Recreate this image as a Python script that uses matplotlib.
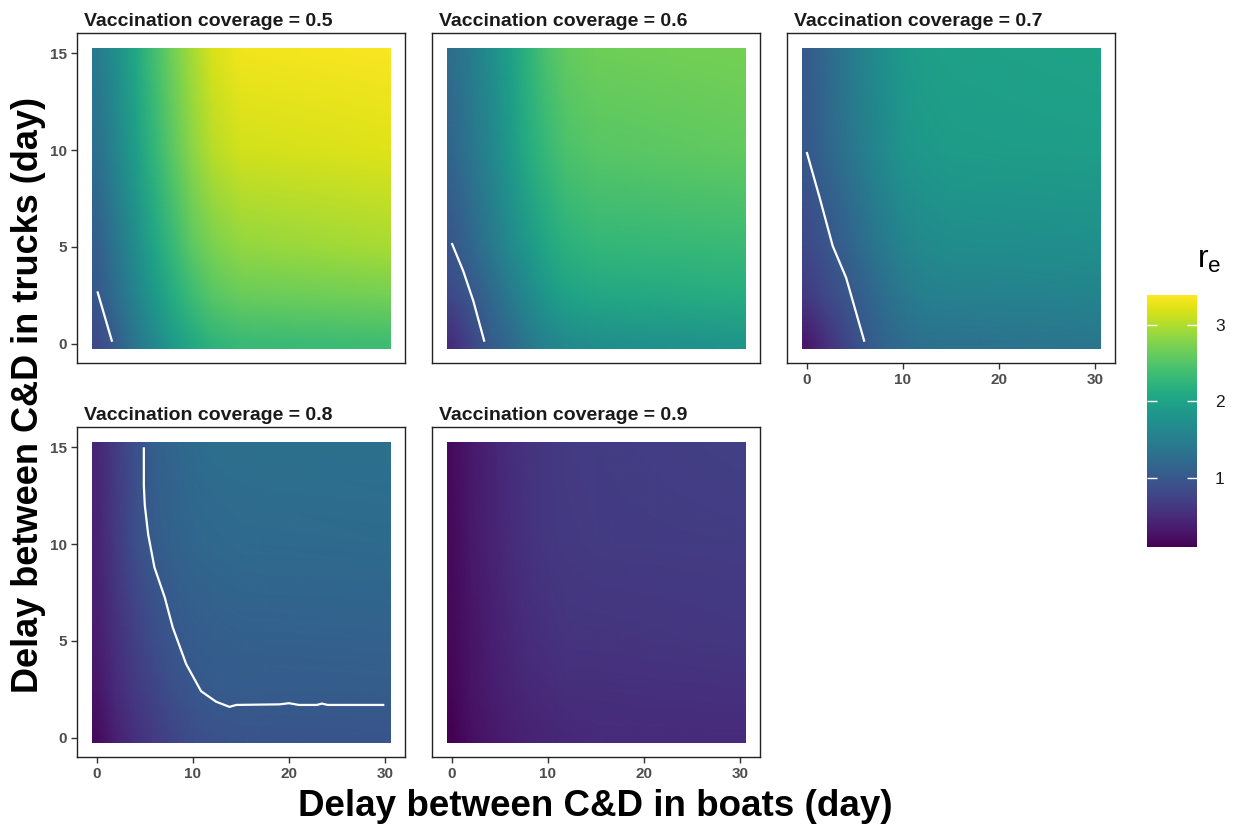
import numpy as np
import matplotlib
matplotlib.use("Agg")
import matplotlib.pyplot as plt
from matplotlib.image import NonUniformImage
from matplotlib.colors import Normalize
from matplotlib.cm import ScalarMappable
from matplotlib.patches import Rectangle

plt.rcParams['font.family'] = ['Liberation Sans', 'DejaVu Sans']
plt.rcParams['mathtext.fontset'] = 'custom'
plt.rcParams['mathtext.rm'] = 'Liberation Sans'
plt.rcParams['mathtext.it'] = 'Liberation Sans:italic'

# ---------------- data ----------------
coverage = [0.5, 0.6, 0.7, 0.8, 0.9]
boat_delay = [0, 2, 4, 6, 8, 10, 12, 15, 30]        # x (day)
truck_delay = [0, 2.5, 5, 10, 15]                   # y (day)

# r_e values, one row per truck delay (bottom to top)
re_05 = [[0.82, 1.08, 1.38, 1.64, 1.91, 2.10, 2.24, 2.33, 2.37],
         [1.00, 1.28, 1.58, 1.87, 2.14, 2.37, 2.53, 2.63, 2.70],
         [1.08, 1.38, 1.71, 2.04, 2.33, 2.57, 2.73, 2.86, 2.96],
         [1.31, 1.61, 1.94, 2.27, 2.57, 2.83, 3.03, 3.16, 3.23],
         [1.44, 1.74, 2.07, 2.40, 2.70, 2.96, 3.19, 3.32, 3.36]]
re_06 = [[0.52, 0.78, 1.05, 1.21, 1.41, 1.58, 1.67, 1.74, 1.81],
         [0.82, 1.00, 1.21, 1.44, 1.67, 1.87, 2.00, 2.07, 2.14],
         [0.99, 1.18, 1.41, 1.64, 1.87, 2.07, 2.20, 2.27, 2.33],
         [1.18, 1.38, 1.61, 1.87, 2.14, 2.33, 2.47, 2.53, 2.60],
         [1.28, 1.48, 1.71, 1.97, 2.24, 2.47, 2.60, 2.66, 2.70]]
re_07 = [[0.32, 0.55, 0.78, 1.00, 1.15, 1.25, 1.31, 1.34, 1.38],
         [0.65, 0.82, 0.96, 1.11, 1.28, 1.41, 1.51, 1.54, 1.58],
         [0.82, 0.95, 1.11, 1.28, 1.44, 1.58, 1.64, 1.71, 1.74],
         [1.00, 1.18, 1.34, 1.51, 1.67, 1.81, 1.87, 1.91, 1.94],
         [1.05, 1.21, 1.41, 1.58, 1.74, 1.87, 1.94, 1.97, 2.00]]
re_08 = [[0.19, 0.39, 0.55, 0.68, 0.78, 0.87, 0.92, 0.95, 0.96],
         [0.29, 0.49, 0.65, 0.78, 0.90, 0.98, 1.02, 1.05, 1.06],
         [0.35, 0.55, 0.72, 0.87, 0.98, 1.05, 1.08, 1.10, 1.11],
         [0.42, 0.65, 0.88, 1.05, 1.13, 1.18, 1.21, 1.23, 1.25],
         [0.45, 0.68, 0.90, 1.10, 1.18, 1.25, 1.28, 1.29, 1.31]]
re_09 = [[0.09, 0.22, 0.30, 0.37, 0.42, 0.45, 0.47, 0.49, 0.50],
         [0.14, 0.26, 0.34, 0.42, 0.47, 0.50, 0.53, 0.54, 0.56],
         [0.16, 0.27, 0.37, 0.45, 0.52, 0.55, 0.58, 0.59, 0.62],
         [0.17, 0.30, 0.40, 0.50, 0.57, 0.62, 0.64, 0.66, 0.68],
         [0.19, 0.32, 0.42, 0.52, 0.59, 0.63, 0.67, 0.68, 0.72]]

# r_e = 1 threshold line (x, y) per panel
line_05_x = [0.07, 1.6]
line_05_y = [2.7, 0.1]
line_06_x = [0.0, 1.2, 2.25, 3.4]
line_06_y = [5.2, 3.75, 2.2, 0.1]
line_07_x = [0.0, 1.34, 2.7, 4.1, 6.0]
line_07_y = [9.9, 7.55, 5.05, 3.4, 0.1]
line_08_x = [4.9, 4.9, 5.0, 5.35, 6.0, 7.07, 7.9, 9.3, 10.85, 12.4, 13.8, 14.5,
             19.0, 20.0, 21.0, 22.9, 23.4, 24.0, 29.9]
line_08_y = [15.0, 13.0, 12.0, 10.5, 8.8, 7.25, 5.7, 3.8, 2.4, 1.86, 1.59, 1.69,
             1.72, 1.78, 1.69, 1.69, 1.76, 1.69, 1.69]
line_09_x = []
line_09_y = []

re_min, re_max = 0.09, 3.39
cbar_ticks = [1, 2, 3]
x_ticks = [0, 10, 20, 30]
y_ticks = [0, 5, 10, 15]

panels = [
    (re_05, line_05_x, line_05_y),
    (re_06, line_06_x, line_06_y),
    (re_07, line_07_x, line_07_y),
    (re_08, line_08_x, line_08_y),
    (re_09, line_09_x, line_09_y),
]

# ---------------- figure ----------------
W, H = 1235, 826
fig = plt.figure(figsize=(W / 100, H / 100), dpi=100)


def px_axes(l, t, r, b):
    return fig.add_axes([l / W, 1 - b / H, (r - l) / W, (b - t) / H])


boxes = [(77, 33, 405, 363), (432, 33, 760, 363), (787, 33, 1115, 363),
         (77, 427, 405, 757), (432, 427, 760, 757)]
show_x = [False, False, True, True, True]
show_y = [True, False, False, True, False]

norm = Normalize(vmin=re_min, vmax=re_max)
cmap = plt.get_cmap('viridis')
tick_color = '#4d4d4d'

for i, (Z, lx, ly) in enumerate(panels):
    ax = px_axes(*boxes[i])
    ax.set_xlim(-2.05, 32.05)
    ax.set_ylim(-1.0, 16.05)
    im = NonUniformImage(ax, interpolation='bilinear', cmap=cmap, norm=norm,
                         extent=(-0.5, 30.5, -0.25, 15.25))
    im.set_data(np.array(boat_delay, float), np.array(truck_delay, float),
                np.array(Z, float))
    ax.add_image(im)
    clip = Rectangle((-0.5, -0.25), 31, 15.5, transform=ax.transData,
                     facecolor='none', edgecolor='none')
    ax.add_patch(clip)
    im.set_clip_path(clip)
    if len(lx):
        ax.plot(lx, ly, color='white', lw=1.6, solid_capstyle='butt')
    for s in ax.spines.values():
        s.set_color('#222222')
        s.set_linewidth(1.0)
    ax.set_xticks(x_ticks)
    ax.set_yticks(y_ticks)
    ax.tick_params(length=4, width=1.0, color='#333333', labelcolor=tick_color,
                   labelsize=11, pad=3)
    if not show_x[i]:
        ax.tick_params(axis='x', bottom=False, labelbottom=False)
    if not show_y[i]:
        ax.tick_params(axis='y', left=False, labelleft=False)
    for lab in ax.get_xticklabels() + ax.get_yticklabels():
        lab.set_fontweight('bold')
    l, t, r, b = boxes[i]
    fig.text((l + 7) / W, 1 - (t - 7) / H, f'Vaccination coverage = {coverage[i]}',
             fontsize=14, fontweight='bold', color='#1a1a1a', ha='left',
             va='baseline')

fig.text(595 / W, 1 - 806 / H, 'Delay between C&D in boats (day)', fontsize=26.5,
         fontweight='bold', ha='center', va='center')
fig.text(29 / W, 1 - 395 / H, 'Delay between C&D in trucks (day)', fontsize=26,
         fontweight='bold', ha='center', va='center', rotation=90)

# colour bar
cax = px_axes(1147, 295, 1197, 547)
sm = ScalarMappable(norm=norm, cmap=cmap)
cb = fig.colorbar(sm, cax=cax)
cb.outline.set_visible(False)
cb.set_ticks(cbar_ticks)
cax.tick_params(length=0, labelsize=12.5, labelcolor='#1a1a1a', pad=13)
cax.hlines(cbar_ticks, 0, 0.2, colors='white', lw=1.0, transform=cax.get_yaxis_transform())
cax.hlines(cbar_ticks, 0.8, 1.0, colors='white', lw=1.0, transform=cax.get_yaxis_transform())
fig.text(1197 / W, 1 - 268 / H, r'r$_\mathrm{e}$', fontsize=23, ha='left',
         va='baseline')

fig.savefig('out.png', dpi=100)
